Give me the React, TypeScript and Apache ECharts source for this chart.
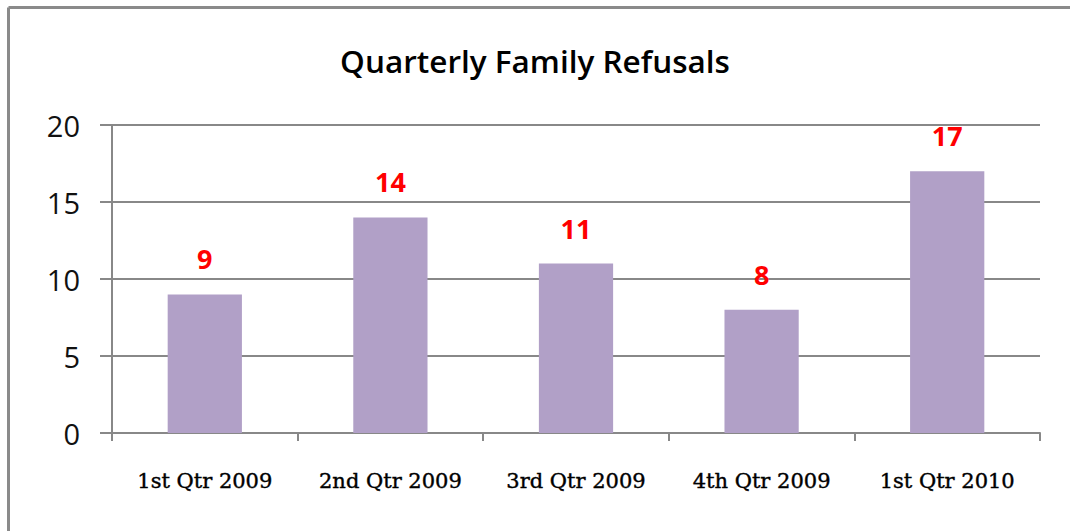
import React, { useEffect, useRef } from "react";
import * as echarts from "echarts";

const categories = ["1st Qtr 2009", "2nd Qtr 2009", "3rd Qtr 2009", "4th Qtr 2009", "1st Qtr 2010"];
const refusals = [9, 14, 11, 8, 17];
const yTicks = { min: 0, max: 20, interval: 5 };

export default function App() {
  const ref = useRef<HTMLDivElement>(null);
  useEffect(() => {
    if (!ref.current) return;
    const chart = echarts.init(ref.current, null, { renderer: "svg" });
    chart.setOption({
      animation: false,
      backgroundColor: "#ffffff",
      title: {
        text: "Quarterly Family Refusals",
        left: "center",
        top: 39,
        textStyle: { fontFamily: "Open Sans", fontWeight: 600, fontSize: 31.5, color: "#000" },
      },
      graphic: [
        { type: "line", shape: { x1: 8.5, y1: 7.5, x2: 1070, y2: 7.5 }, style: { stroke: "#8a8a8a", lineWidth: 3 } },
        { type: "line", shape: { x1: 8.5, y1: 7.5, x2: 8.5, y2: 531 }, style: { stroke: "#8a8a8a", lineWidth: 3 } },
      ],
      grid: { left: 112, right: 30, top: 125, bottom: 98, containLabel: false },
      xAxis: {
        type: "category",
        data: categories,
        axisLine: { lineStyle: { color: "#888", width: 2 } },
        axisTick: { show: true, interval: 0, length: 8, lineStyle: { color: "#888", width: 2 } },
        axisLabel: {
          interval: 0,
          hideOverlap: false,
          margin: 37,
          fontFamily: "DejaVu Serif",
          fontSize: 21,
          color: "#000",
          textBorderColor: "#000",
          textBorderWidth: 0.4,
        },
      },
      yAxis: {
        type: "value",
        min: yTicks.min,
        max: yTicks.max,
        interval: yTicks.interval,
        axisLine: { show: true, lineStyle: { color: "#888", width: 2 } },
        axisTick: { show: true, length: 12, inside: false, lineStyle: { color: "#888", width: 2 } },
        splitLine: { lineStyle: { color: "#888", width: 2 } },
        axisLabel: { fontFamily: "Open Sans", fontSize: 29, color: "#111", margin: 32 },
      },
      series: [
        {
          type: "bar",
          data: refusals,
          barWidth: "40%",
          itemStyle: { color: "#B1A0C7" },
          label: {
            show: true,
            position: "top",
            distance: 22,
            color: "#ff0000",
            fontFamily: "Open Sans",
            fontWeight: "bold",
            fontSize: 27,
          },
        },
      ],
    });
    return () => chart.dispose();
  }, []);
  return <div ref={ref} style={{ position: "fixed", left: 0, top: 0, width: 1070, height: 531 }} />;
}
